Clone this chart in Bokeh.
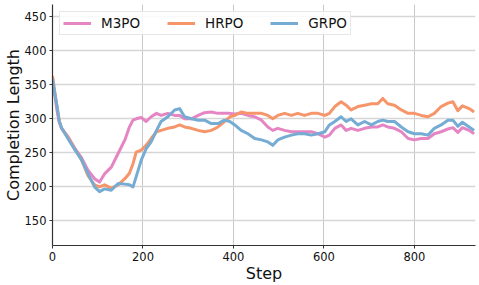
from bokeh.plotting import figure
from bokeh.embed import file_html
from bokeh.resources import INLINE
from bokeh.models import Range1d, FixedTicker, Legend, LegendItem

steps = [0, 5, 10, 15, 20, 34, 49, 64, 78, 93, 104, 115, 130, 145, 160, 170, 178, 185, 196,
         207, 218, 230, 240, 255, 270, 281, 292, 307, 322, 336, 351, 366, 380, 392, 403, 417,
         432, 447, 462, 476, 487, 498, 513, 528, 542, 557, 572, 587, 602, 612, 624, 638, 649,
         660, 675, 690, 705, 719, 730, 741, 756, 771, 786, 800, 815, 830, 844, 859, 874, 885,
         896, 906, 921, 932]

m3po = [355, 335, 312, 295, 286, 274, 257, 243, 225, 212, 207, 219, 229, 249, 269, 288, 298,
        300, 302, 296, 303, 308, 305, 308, 305, 305, 300, 300, 305, 309, 310, 308, 308, 308,
        307, 308, 305, 303, 298, 288, 283, 286, 283, 281, 281, 281, 281, 278, 273, 276, 286,
        291, 283, 286, 283, 286, 288, 288, 291, 288, 286, 281, 271, 269, 271, 271, 278, 281,
        285, 287, 280, 287, 283, 278]

hrpo = [363, 340, 318, 297, 286, 273, 256, 240, 217, 203, 200, 203, 198, 203, 212, 220, 234,
        251, 254, 261, 271, 281, 283, 286, 288, 291, 288, 286, 283, 281, 283, 288, 296, 303,
        305, 310, 308, 308, 308, 305, 300, 305, 308, 305, 308, 305, 308, 308, 305, 308, 318,
        325, 320, 313, 318, 320, 322, 322, 330, 322, 320, 313, 308, 308, 305, 303, 308, 318,
        323, 325, 312, 319, 315, 310]

grpo = [359, 338, 318, 296, 287, 271, 255, 240, 220, 200, 193, 197, 195, 205, 204, 203, 200,
        215, 239, 256, 266, 283, 296, 303, 313, 315, 303, 300, 298, 298, 293, 293, 298, 296,
        291, 283, 278, 271, 269, 266, 261, 269, 273, 276, 278, 278, 276, 278, 281, 291, 296,
        303, 296, 300, 291, 296, 291, 296, 298, 296, 296, 288, 281, 278, 278, 276, 286, 291,
        298, 298, 289, 295, 288, 283]

series_names = ["M3PO", "HRPO", "GRPO"]
series_colors = ["#e585c3", "#f7956a", "#75acd3"]

x_ticks = [0, 200, 400, 600, 800]
y_ticks = [150, 200, 250, 300, 350, 400, 450]

FONT = "DejaVu Sans"

p = figure(width=479, height=285, output_backend="svg", toolbar_location=None,
           x_range=Range1d(0, 935), y_range=Range1d(113.8, 468),
           min_border_top=4, min_border_right=4, min_border_left=51, min_border_bottom=40)

p.outline_line_color = None
p.background_fill_color = "white"

for ax in (p.xaxis[0], p.yaxis[0]):
    ax.axis_line_color = "#333333"
    ax.axis_line_width = 1.2
    ax.major_tick_line_color = "#333333"
    ax.major_tick_in = 0
    ax.major_tick_out = 3
    ax.minor_tick_line_color = None
    ax.major_label_text_font = FONT
    ax.major_label_text_font_size = "11.5px"
    ax.major_label_text_color = "#111111"
    ax.major_label_standoff = 3
    ax.axis_label_text_font = FONT
    ax.axis_label_text_font_size = "16px"
    ax.axis_label_text_font_style = "normal"
    ax.axis_label_text_color = "#111111"

p.xaxis.axis_label = "Step"
p.yaxis.axis_label = "Completion Length"
p.xaxis.axis_label_standoff = 0
p.yaxis.axis_label_standoff = -1
p.xaxis.ticker = FixedTicker(ticks=x_ticks)
p.yaxis.ticker = FixedTicker(ticks=y_ticks)

p.xgrid.ticker = FixedTicker(ticks=x_ticks)
p.ygrid.ticker = FixedTicker(ticks=y_ticks)
p.xgrid.grid_line_color = "#c8c8c8"
p.ygrid.grid_line_color = "#d6d6d6"
p.xgrid.grid_line_width = 1
p.ygrid.grid_line_width = 1.5

items = []
for name, col, ys in zip(series_names, series_colors, [m3po, hrpo, grpo]):
    r = p.line(steps, ys, line_color=col, line_width=3, line_alpha=1.0, line_join="round")
    items.append(LegendItem(label=name, renderers=[r]))

legend = Legend(items=items, orientation="horizontal", location="top_left")
legend.margin = 7
legend.padding = 3
legend.spacing = 27
legend.glyph_width = 28
legend.glyph_height = 16
legend.label_standoff = 10
legend.label_text_font = FONT
legend.label_text_font_size = "13.5px"
legend.label_text_color = "#111111"
legend.border_line_color = "#d0d0d0"
legend.border_line_width = 1
legend.background_fill_alpha = 0.85
p.add_layout(legend, "center")

open("out.html", "w").write(file_html(p, INLINE))
